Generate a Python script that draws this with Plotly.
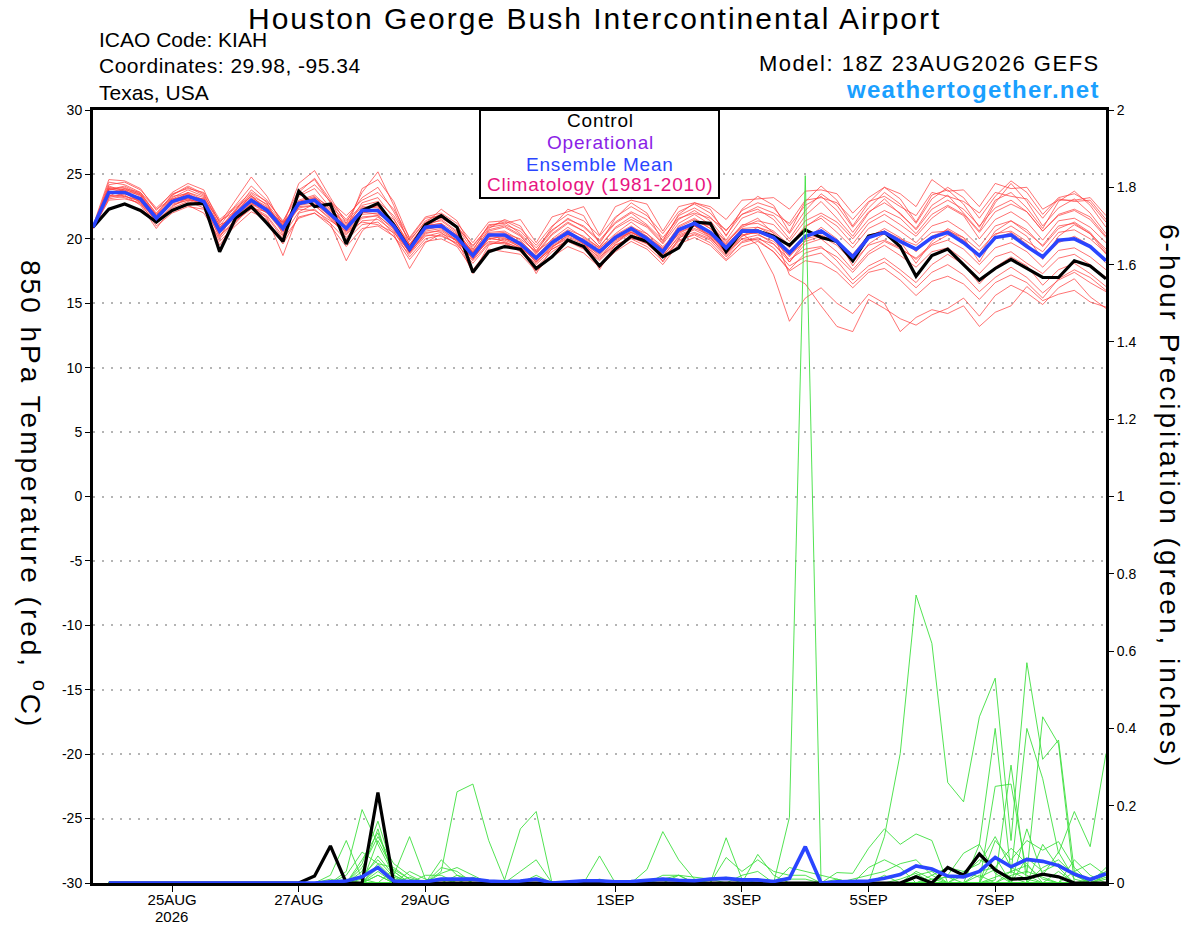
import pandas as pd
import plotly.graph_objects as go

# 6-hourly valid times of the 18Z 23AUG2026 GEFS run
times = pd.date_range("2026-08-23 18:00", periods=65, freq="6h")

# 850 hPa temperature (C)
control_t850 = [
    20.9, 22.3, 22.7, 22.2, 21.3, 22.2, 22.7, 22.75, 19.0, 21.6, 22.5, 21.2, 19.8,
    23.7, 22.5, 22.7, 19.6, 22.2, 22.75, 21.1, 19.2, 21.1, 21.8, 20.9, 17.4, 19.0,
    19.4, 19.2, 17.7, 18.6, 19.9, 19.4, 17.9, 19.2, 20.2, 19.8, 18.6, 19.3, 21.3,
    21.2, 19.0, 20.6, 20.6, 20.2, 19.5, 20.7, 20.1, 19.8, 18.3, 20.2, 20.5, 19.4,
    17.1, 18.7, 19.2, 18.0, 16.8, 17.7, 18.4, 17.7, 17.0, 17.0, 18.3, 17.9, 16.9,
]
mean_t850 = [
    20.9, 23.6, 23.6, 23.1, 21.6, 22.9, 23.3, 22.9, 20.6, 21.9, 23.0, 22.2, 20.8,
    22.75, 23.0, 21.9, 20.8, 22.2, 22.2, 21.0, 19.2, 20.9, 21.0, 20.1, 18.7, 20.3,
    20.3, 19.6, 18.5, 19.7, 20.5, 19.8, 19.0, 20.1, 20.8, 20.0, 19.0, 20.7, 21.2,
    20.5, 19.3, 20.6, 20.6, 20.1, 18.9, 20.2, 20.6, 19.8, 18.6, 20.1, 20.5, 19.8,
    19.2, 20.1, 20.5, 19.7, 18.7, 20.1, 20.3, 19.4, 18.6, 19.9, 20.0, 19.4, 18.3,
]
member_t850 = [
    [20.9, 24.4, 24.2, 23.6, 21.9, 23.4, 24.1, 23.5, 21.0, 22.6, 24.1, 23.0, 21.3,
     23.8, 24.6, 22.8, 21.5, 23.2, 24.0, 22.1, 19.8, 21.4, 21.9, 21.0, 19.4, 21.0,
     21.3, 20.4, 19.1, 20.6, 21.6, 20.9, 19.8, 21.2, 22.0, 21.1, 19.9, 21.8, 22.4,
     21.7, 20.3, 21.9, 22.3, 21.5, 20.0, 21.8, 22.9, 21.6, 20.2, 22.0, 23.1, 21.9,
     20.8, 22.6, 23.4, 22.0, 20.6, 22.8, 24.3, 22.9, 21.0, 22.4, 23.1, 22.0, 20.4],
    [20.8, 23.0, 23.1, 22.8, 21.0, 22.0, 22.5, 22.3, 19.8, 21.0, 22.1, 21.5, 19.6,
     21.7, 22.0, 21.0, 19.4, 20.8, 21.0, 20.2, 18.4, 19.8, 20.0, 19.4, 17.6, 19.2,
     19.0, 18.8, 17.5, 18.6, 19.4, 18.9, 17.8, 19.0, 19.8, 19.2, 18.0, 19.6, 20.1,
     19.5, 18.3, 19.4, 19.8, 19.0, 17.6, 18.9, 19.3, 18.6, 17.4, 18.8, 19.5, 18.7,
     17.8, 19.0, 19.3, 18.4, 17.3, 18.6, 19.0, 18.1, 17.3, 18.5, 18.8, 18.0, 17.0],
    [21.0, 24.6, 24.5, 23.9, 22.2, 23.6, 24.3, 23.8, 21.2, 23.0, 24.8, 23.3, 21.0,
     24.3, 25.3, 23.2, 21.2, 23.6, 25.2, 22.6, 19.5, 21.2, 22.3, 21.4, 19.2, 20.8,
     21.5, 21.0, 19.0, 20.9, 22.3, 21.8, 19.6, 21.6, 22.8, 22.0, 19.8, 21.9, 22.8,
     22.3, 20.2, 22.3, 23.3, 22.6, 20.5, 22.9, 24.1, 23.0, 21.0, 22.8, 24.0, 23.1,
     21.3, 23.4, 23.8, 22.7, 20.9, 23.0, 23.6, 22.4, 20.8, 22.9, 23.7, 22.6, 20.9],
    [20.9, 23.3, 23.4, 22.6, 20.8, 22.4, 22.9, 22.4, 19.5, 21.2, 22.6, 21.6, 18.7,
     22.0, 22.3, 21.2, 18.3, 20.6, 21.7, 20.4, 17.7, 19.7, 20.4, 19.9, 17.3, 19.5,
     20.0, 19.5, 17.3, 19.3, 20.3, 19.9, 17.6, 19.6, 20.7, 20.2, 18.2, 20.0, 21.0,
     20.6, 18.8, 20.2, 20.9, 20.3, 18.2, 19.9, 20.9, 20.0, 17.9, 19.6, 20.4, 19.8,
     18.1, 19.8, 20.8, 20.1, 18.2, 20.3, 21.0, 20.2, 18.4, 20.2, 21.1, 20.4, 18.8],
    [20.9, 23.8, 23.9, 23.3, 21.8, 23.1, 23.6, 23.0, 20.9, 22.1, 23.2, 22.5, 21.0,
     23.0, 23.4, 22.3, 21.2, 22.5, 22.4, 21.5, 19.6, 21.2, 21.4, 20.5, 19.0, 20.6,
     20.9, 20.2, 18.9, 20.4, 21.3, 20.6, 19.4, 20.8, 21.5, 20.9, 19.6, 21.2, 21.9,
     21.1, 19.8, 21.0, 21.6, 20.4, 17.2, 16.5, 14.8, 13.2, 12.8, 15.3, 14.6, 13.8,
     13.3, 14.1, 14.6, 15.4, 14.0, 15.6, 16.4, 15.8, 14.9, 16.2, 16.9, 15.5, 14.6],
    [20.9, 23.5, 23.7, 23.4, 21.7, 22.8, 23.1, 22.7, 20.4, 21.7, 22.8, 22.0, 20.5,
     22.6, 22.8, 21.7, 20.5, 21.9, 22.0, 21.0, 19.0, 20.6, 20.8, 19.8, 18.5, 20.0,
     19.9, 19.4, 18.2, 19.5, 20.2, 19.7, 18.7, 19.8, 20.5, 19.9, 18.8, 20.4, 21.0,
     20.3, 19.0, 20.4, 19.5, 17.2, 13.6, 15.4, 16.2, 15.0, 14.2, 15.7, 15.0, 12.8,
     13.9, 14.5, 14.2, 14.8, 13.2, 14.3, 14.8, 16.3, 15.2, 15.7, 16.0, 15.1, 14.7],
    [20.9, 24.0, 23.8, 23.0, 21.3, 22.6, 23.0, 22.6, 20.2, 21.5, 22.7, 22.3, 20.6,
     22.4, 22.6, 21.5, 20.3, 21.6, 21.8, 20.7, 18.9, 20.5, 20.6, 19.8, 18.4, 20.1,
     19.8, 19.2, 18.0, 19.2, 19.9, 19.3, 18.3, 19.5, 20.1, 19.6, 18.5, 19.9, 20.3,
     19.7, 18.4, 19.8, 20.1, 19.3, 17.9, 18.6, 18.9, 17.8, 16.5, 17.6, 18.2, 17.3,
     16.2, 17.4, 18.0, 17.2, 15.9, 17.0, 17.8, 17.0, 15.8, 16.8, 17.4, 16.6, 15.9],
    [20.9, 23.9, 24.0, 23.4, 21.6, 23.2, 23.8, 23.3, 20.8, 22.3, 23.5, 22.6, 20.9,
     23.3, 23.9, 22.4, 20.9, 22.8, 23.2, 21.6, 19.4, 21.0, 21.5, 20.6, 18.9, 20.7,
     21.0, 20.3, 18.8, 20.3, 21.2, 20.6, 19.4, 20.9, 21.7, 21.0, 19.7, 21.5, 22.2,
     21.4, 19.9, 21.6, 22.1, 21.8, 20.4, 22.2, 23.5, 22.6, 20.9, 22.4, 23.6, 22.7,
     21.2, 23.1, 24.0, 23.2, 21.6, 23.3, 24.5, 23.6, 21.9, 23.2, 23.5, 22.8, 21.3],
    [20.9, 23.7, 23.3, 22.9, 21.5, 23.0, 23.4, 22.8, 20.7, 22.0, 23.4, 22.1, 20.6,
     22.9, 23.3, 22.0, 20.9, 22.3, 22.6, 21.1, 19.3, 20.8, 20.9, 20.2, 18.8, 20.4,
     20.5, 19.7, 18.5, 19.8, 20.6, 19.9, 19.1, 20.3, 21.0, 20.2, 19.2, 20.9, 21.5,
     20.8, 19.5, 20.8, 20.9, 20.5, 19.3, 20.9, 21.8, 21.0, 19.6, 21.2, 21.9, 21.1,
     20.2, 21.6, 22.5, 21.8, 20.0, 21.5, 22.1, 21.3, 19.9, 21.4, 21.6, 20.9, 19.7],
    [20.8, 23.2, 23.5, 23.2, 21.9, 22.7, 23.0, 22.9, 21.1, 21.6, 22.4, 22.1, 21.3,
     22.3, 22.2, 21.4, 20.6, 21.3, 21.1, 20.5, 19.0, 20.3, 20.2, 19.7, 18.6, 19.8,
     19.7, 19.3, 18.3, 19.2, 19.8, 19.5, 18.6, 19.5, 20.1, 19.7, 18.7, 20.1, 20.5,
     20.0, 18.9, 20.0, 20.3, 19.8, 18.7, 19.8, 20.2, 19.5, 18.2, 19.5, 19.9, 19.3,
     18.4, 19.5, 19.9, 19.2, 18.0, 19.3, 19.7, 19.0, 17.8, 19.1, 19.3, 18.6, 17.6],
    [20.9, 24.2, 24.4, 23.8, 22.4, 23.5, 23.9, 23.6, 21.5, 22.5, 23.6, 22.9, 21.4,
     23.4, 24.2, 22.9, 21.8, 23.0, 23.6, 22.3, 20.1, 21.7, 22.0, 21.2, 19.7, 21.3,
     21.4, 20.8, 19.5, 21.0, 21.9, 21.4, 20.2, 21.7, 22.5, 21.8, 20.4, 22.1, 22.7,
     22.0, 20.6, 22.2, 22.8, 22.4, 21.0, 22.6, 23.3, 22.2, 20.5, 22.1, 22.8, 22.0,
     20.7, 22.3, 23.0, 22.3, 21.0, 22.4, 23.0, 22.1, 20.6, 21.8, 22.2, 21.5, 20.1],
    [20.9, 23.4, 23.2, 22.7, 21.2, 22.5, 23.2, 23.1, 20.3, 21.3, 22.5, 21.8, 20.2,
     22.1, 22.7, 21.8, 20.1, 21.4, 21.5, 20.6, 18.6, 20.0, 20.3, 19.6, 18.1, 19.6,
     19.7, 19.0, 17.8, 19.0, 19.8, 19.2, 18.0, 19.3, 20.0, 19.4, 18.3, 19.8, 20.4,
     19.9, 18.6, 19.7, 20.0, 19.6, 18.4, 19.2, 19.4, 18.3, 16.8, 17.9, 18.5, 17.6,
     16.6, 18.0, 18.8, 18.0, 16.5, 17.8, 18.6, 17.9, 16.4, 17.6, 18.1, 17.3, 16.3],
    [20.9, 23.6, 23.8, 23.5, 21.8, 23.3, 23.5, 22.6, 20.1, 22.2, 23.8, 22.8, 20.3,
     23.6, 24.7, 23.0, 20.7, 23.9, 24.6, 22.9, 20.0, 21.6, 21.8, 20.9, 19.1, 21.1,
     21.2, 21.5, 19.7, 21.7, 22.1, 22.5, 20.3, 22.5, 23.0, 22.7, 20.6, 22.5, 22.8,
     22.5, 21.5, 23.0, 23.1, 23.2, 22.3, 23.7, 23.8, 23.5, 22.0, 23.2, 24.0, 23.5,
     22.5, 24.6, 23.7, 23.8, 22.5, 24.3, 23.9, 24.0, 22.3, 23.0, 23.0, 23.2, 21.8],
    [20.9, 23.5, 23.6, 22.9, 21.4, 22.8, 23.6, 23.2, 20.5, 21.8, 23.1, 22.4, 20.9,
     22.8, 23.1, 22.1, 20.6, 22.0, 22.3, 21.2, 19.2, 21.0, 21.2, 20.4, 18.9, 20.3,
     20.1, 19.3, 18.4, 19.6, 20.4, 19.6, 18.8, 20.0, 20.6, 19.8, 18.9, 20.6, 21.1,
     20.2, 19.1, 20.5, 20.4, 19.6, 18.2, 19.6, 20.0, 19.0, 17.6, 19.0, 19.8, 19.2,
     18.5, 19.6, 20.3, 19.9, 18.8, 20.6, 21.4, 20.7, 19.4, 20.8, 21.3, 20.5, 19.0],
    [20.9, 24.1, 23.7, 23.0, 21.6, 22.9, 23.2, 22.8, 20.6, 22.0, 22.9, 22.3, 21.1,
     22.8, 22.9, 21.9, 21.0, 22.1, 21.9, 21.3, 19.5, 21.1, 21.0, 20.3, 19.0, 20.2,
     20.0, 19.8, 18.7, 19.8, 20.3, 20.0, 19.2, 20.0, 20.5, 20.1, 19.3, 20.3, 20.8,
     20.3, 19.4, 20.3, 20.5, 20.0, 19.1, 20.0, 20.3, 19.7, 18.8, 20.3, 20.6, 20.0,
     19.5, 20.5, 20.6, 20.1, 19.1, 20.4, 20.6, 19.8, 19.0, 20.5, 20.7, 20.0, 18.9],
    [20.8, 23.1, 23.3, 23.0, 21.4, 22.2, 22.6, 22.0, 20.0, 21.4, 22.3, 21.7, 20.0,
     21.6, 22.0, 21.2, 19.9, 21.1, 21.3, 20.2, 18.8, 20.2, 20.5, 19.5, 18.3, 19.7,
     19.6, 19.1, 18.1, 19.4, 20.0, 19.4, 18.4, 19.7, 20.4, 19.6, 18.6, 20.2, 20.7,
     20.1, 19.0, 20.2, 20.6, 20.0, 18.6, 20.1, 20.6, 19.9, 18.6, 20.1, 20.8, 20.1,
     19.0, 20.2, 20.7, 19.9, 18.6, 20.0, 20.5, 19.6, 18.5, 19.7, 20.2, 19.5, 18.1],
    [20.9, 23.8, 24.1, 23.5, 22.0, 23.4, 24.0, 23.4, 21.3, 22.4, 23.3, 22.7, 21.2,
     22.9, 23.2, 22.5, 21.4, 22.6, 22.9, 21.8, 19.9, 21.3, 21.6, 20.9, 19.5, 20.9,
     21.1, 20.6, 19.3, 20.7, 21.5, 21.0, 19.9, 21.3, 22.1, 21.5, 20.1, 21.6, 22.0,
     21.6, 20.7, 21.9, 22.5, 22.0, 21.2, 23.0, 23.2, 22.8, 21.5, 22.9, 23.3, 22.5,
     21.8, 23.6, 23.3, 22.9, 22.0, 23.6, 23.3, 23.1, 21.6, 23.1, 22.9, 23.0, 21.5],
    [20.9, 23.6, 23.5, 23.2, 21.7, 22.9, 23.1, 22.7, 20.9, 21.8, 22.7, 22.0, 20.7,
     22.5, 22.6, 21.6, 20.4, 21.7, 21.8, 20.8, 18.9, 20.4, 20.7, 19.9, 18.4, 20.0,
     20.2, 19.5, 18.2, 19.4, 20.1, 19.6, 18.5, 19.9, 20.5, 19.8, 18.8, 20.5, 21.0,
     20.1, 18.7, 20.0, 19.9, 19.0, 17.5, 18.3, 18.1, 17.4, 16.2, 17.4, 17.7, 16.8,
     15.6, 16.7, 17.1, 16.5, 15.3, 16.6, 17.2, 16.6, 15.4, 16.9, 17.6, 17.0, 16.0],
    [20.9, 23.9, 23.6, 22.8, 21.4, 23.0, 23.5, 22.9, 20.5, 22.2, 23.3, 22.3, 20.9,
     22.6, 23.1, 22.0, 20.7, 22.4, 22.5, 21.0, 19.1, 21.0, 21.2, 20.0, 18.6, 20.5,
     20.6, 19.9, 18.6, 20.0, 20.9, 20.1, 19.3, 20.4, 21.3, 20.4, 19.2, 21.0, 21.6,
     20.8, 19.6, 21.1, 21.2, 20.6, 19.5, 21.0, 21.6, 20.5, 19.3, 20.8, 21.4, 20.6,
     19.7, 21.0, 21.4, 20.6, 19.4, 21.0, 21.4, 20.5, 19.5, 21.0, 21.2, 20.4, 19.2],
    [21.0, 23.3, 23.9, 23.6, 22.3, 23.1, 23.3, 23.1, 21.4, 22.1, 22.8, 22.4, 21.2,
     22.6, 23.2, 22.2, 21.1, 22.3, 22.1, 21.2, 19.4, 20.7, 21.0, 20.3, 18.9, 20.2,
     20.4, 20.0, 19.0, 19.9, 20.7, 20.2, 19.3, 20.2, 20.9, 20.4, 19.4, 20.5, 21.3,
     21.0, 19.7, 20.9, 21.4, 21.1, 19.8, 21.4, 22.0, 21.3, 20.0, 21.5, 22.2, 21.6,
     20.4, 21.9, 22.6, 21.9, 20.5, 22.1, 22.7, 22.1, 20.6, 21.9, 22.3, 21.7, 20.2],
]

# 6-hour precipitation (inches), valid from the first forecast step
control_precip = [
    0, 0, 0, 0, 0, 0, 0, 0,
    0, 0, 0, 0, 0, 0.018, 0.096, 0,
    0, 0.234, 0, 0, 0, 0, 0, 0,
    0, 0, 0, 0, 0, 0, 0, 0,
    0, 0, 0, 0, 0, 0, 0, 0,
    0, 0, 0, 0, 0, 0, 0, 0,
    0, 0, 0, 0.016, 0, 0.04, 0.02, 0.075,
    0.034, 0.01, 0.012, 0.023, 0.016, 0, 0, 0,
]
mean_precip = [
    0, 0, 0, 0, 0, 0, 0, 0,
    0, 0, 0, 0, 0, 0, 0.003, 0.005,
    0.016, 0.04, 0.005, 0.005, 0.003, 0.01, 0.01, 0.01,
    0.005, 0.003, 0.005, 0.01, 0, 0.003, 0.006, 0.006,
    0.003, 0.004, 0.007, 0.01, 0.007, 0.006, 0.01, 0.012,
    0.008, 0.008, 0.004, 0.012, 0.094, 0, 0.003, 0.003,
    0.005, 0.012, 0.022, 0.044, 0.036, 0.018, 0.016, 0.03,
    0.066, 0.042, 0.061, 0.056, 0.045, 0.023, 0.009, 0.024,
]
member_precip = [
    [0, 0, 0, 0, 0, 0, 0, 0,  0, 0, 0, 0, 0, 0, 0.02, 0.11,
     0.01, 0, 0, 0, 0, 0, 0, 0,  0, 0, 0, 0, 0, 0, 0, 0,
     0, 0, 0, 0, 0, 0, 0, 0,  0, 0, 0, 0, 0, 0, 0, 0,
     0, 0, 0, 0.02, 0.03, 0, 0, 0,  0.11, 0.06, 0.11, 0.085, 0.107, 0.04, 0, 0.02],
    [0, 0, 0, 0, 0, 0, 0, 0,  0, 0, 0, 0, 0, 0, 0, 0.03,
     0.19, 0.10, 0.02, 0, 0, 0, 0, 0,  0, 0, 0, 0, 0, 0, 0, 0,
     0, 0, 0, 0, 0, 0, 0, 0,  0, 0.074, 0.02, 0, 0, 0, 0, 0,
     0, 0, 0, 0, 0, 0, 0, 0.10,  0.40, 0.025, 0.40, 0.27, 0.077, 0.185, 0.094, 0.335],
    [0, 0, 0, 0, 0, 0, 0, 0,  0, 0, 0, 0, 0, 0, 0, 0,
     0.05, 0.16, 0.03, 0, 0, 0.06, 0.02, 0,  0, 0, 0, 0, 0, 0, 0, 0,
     0, 0, 0, 0, 0, 0, 0, 0,  0, 0, 0, 0, 0, 0, 0, 0,
     0, 0.12, 0.335, 0.745, 0.62, 0.26, 0.21, 0.43,  0.53, 0.11, 0.57, 0.32, 0.37, 0.03, 0, 0],
    [0, 0, 0, 0, 0, 0, 0, 0,  0, 0, 0, 0, 0, 0, 0, 0,
     0.03, 0.14, 0.01, 0, 0, 0, 0, 0,  0, 0, 0.03, 0.06, 0, 0, 0, 0,
     0, 0, 0, 0.02, 0.02, 0, 0, 0,  0, 0, 0, 0, 0, 0, 0, 0,
     0, 0, 0, 0, 0, 0, 0, 0,  0.25, 0.256, 0.025, 0.43, 0.36, 0, 0, 0],
    [0, 0, 0, 0, 0, 0, 0, 0,  0, 0, 0, 0, 0, 0, 0, 0,
     0.06, 0.13, 0.02, 0.12, 0.01, 0, 0, 0,  0, 0, 0, 0, 0, 0, 0, 0,
     0, 0, 0, 0, 0, 0, 0, 0.117,  0.01, 0, 0, 0, 0, 0, 0, 0,
     0, 0, 0, 0, 0, 0, 0, 0,  0.008, 0.305, 0, 0, 0, 0, 0, 0],
    [0, 0, 0, 0, 0, 0, 0, 0,  0, 0, 0, 0, 0, 0, 0, 0,
     0.04, 0.12, 0.05, 0.02, 0, 0.03, 0.236, 0.256,  0.11, 0.008, 0.14, 0.185, 0, 0, 0, 0,
     0, 0, 0, 0, 0, 0, 0, 0,  0, 0, 0, 0, 0, 0, 0, 0,
     0, 0, 0, 0, 0, 0, 0, 0,  0, 0, 0, 0, 0, 0, 0, 0],
    [0, 0, 0, 0, 0, 0, 0, 0,  0, 0, 0, 0, 0, 0, 0, 0,
     0, 0.11, 0.03, 0, 0, 0, 0, 0,  0, 0, 0, 0, 0, 0, 0, 0.07,
     0, 0, 0, 0, 0, 0, 0, 0,  0, 0, 0, 0, 0, 0, 0, 0,
     0, 0, 0, 0, 0, 0.02, 0.077, 0.10,  0.025, 0, 0, 0, 0, 0, 0, 0],
    [0, 0, 0, 0, 0, 0, 0, 0,  0, 0, 0, 0, 0, 0, 0, 0.02,
     0.08, 0.05, 0.01, 0, 0, 0.04, 0.03, 0,  0, 0, 0, 0, 0, 0, 0, 0,
     0, 0, 0.035, 0.133, 0.06, 0.01, 0, 0,  0, 0, 0, 0, 0, 0, 0, 0,
     0, 0, 0, 0, 0, 0, 0, 0,  0.068, 0, 0.14, 0.02, 0.08, 0.01, 0, 0.04],
    [0, 0, 0, 0, 0, 0, 0, 0,  0, 0, 0, 0, 0, 0, 0, 0,
     0, 0, 0, 0, 0, 0, 0, 0,  0, 0, 0, 0, 0, 0, 0, 0,
     0, 0, 0, 0, 0, 0, 0, 0,  0, 0, 0, 0.17, 1.83, 0, 0.027, 0.025,
     0.09, 0.14, 0.10, 0.127, 0.11, 0, 0, 0,  0, 0, 0, 0, 0, 0, 0, 0],
    [0, 0, 0, 0, 0, 0, 0, 0,  0, 0, 0, 0, 0, 0, 0, 0,
     0, 0, 0, 0, 0, 0, 0, 0,  0, 0, 0, 0, 0, 0, 0, 0,
     0, 0, 0, 0, 0, 0, 0, 0.066,  0.03, 0.06, 0.03, 0.02, 0.02, 0, 0, 0,
     0, 0, 0, 0.03, 0.01, 0, 0, 0.02,  0, 0, 0, 0, 0, 0, 0, 0],
    [0, 0, 0, 0, 0, 0, 0, 0,  0, 0, 0, 0, 0, 0, 0.01, 0,
     0, 0.04, 0, 0, 0.02, 0.02, 0, 0,  0, 0, 0, 0, 0, 0, 0, 0,
     0, 0, 0, 0, 0, 0, 0, 0,  0, 0, 0, 0.04, 0.03, 0.02, 0.01, 0,
     0.04, 0.06, 0.04, 0, 0, 0, 0, 0,  0, 0, 0, 0.1, 0.04, 0, 0, 0],
    [0, 0, 0, 0, 0, 0, 0, 0,  0, 0, 0, 0, 0, 0, 0, 0,
     0, 0.03, 0, 0.015, 0, 0, 0, 0,  0, 0, 0, 0.02, 0, 0, 0, 0,
     0, 0, 0, 0, 0.02, 0.015, 0.01, 0,  0, 0, 0, 0, 0, 0, 0, 0,
     0, 0, 0, 0, 0.02, 0.04, 0.03, 0.05,  0.12, 0.04, 0.02, 0, 0, 0.06, 0.02, 0],
    [0, 0, 0, 0, 0, 0, 0, 0,  0, 0, 0, 0, 0, 0, 0, 0,
     0.02, 0.06, 0.015, 0, 0, 0, 0, 0.015,  0, 0, 0, 0, 0, 0, 0, 0,
     0, 0, 0, 0, 0, 0, 0, 0,  0, 0, 0, 0, 0, 0, 0, 0,
     0, 0, 0, 0, 0, 0, 0.02, 0.06,  0.04, 0.09, 0.05, 0, 0.03, 0, 0, 0],
    [0, 0, 0, 0, 0, 0, 0, 0,  0, 0, 0, 0, 0, 0, 0, 0,
     0, 0, 0, 0, 0, 0.025, 0.04, 0.02,  0, 0, 0, 0, 0, 0, 0, 0,
     0, 0, 0, 0, 0, 0, 0, 0,  0.02, 0.03, 0, 0, 0, 0, 0, 0.01,
     0.02, 0.03, 0.05, 0.06, 0.02, 0, 0, 0,  0, 0, 0, 0, 0, 0.03, 0.05, 0.02],
    [0, 0, 0, 0, 0, 0, 0, 0,  0, 0, 0, 0, 0, 0, 0, 0,
     0, 0.02, 0, 0, 0, 0, 0, 0,  0, 0, 0, 0, 0, 0, 0, 0,
     0, 0, 0, 0.01, 0.02, 0, 0, 0,  0, 0, 0, 0.01, 0.01, 0, 0, 0,
     0, 0, 0, 0, 0, 0, 0, 0,  0, 0.02, 0.03, 0.015, 0, 0, 0.01, 0.03],
    [0, 0, 0, 0, 0, 0, 0, 0,  0, 0, 0, 0, 0, 0, 0, 0,
     0, 0.05, 0.04, 0.01, 0, 0, 0, 0,  0, 0, 0, 0, 0, 0, 0, 0,
     0, 0, 0, 0, 0, 0, 0, 0,  0, 0, 0, 0, 0, 0, 0.01, 0,
     0, 0.02, 0, 0, 0, 0, 0.03, 0.015,  0.035, 0.015, 0, 0, 0, 0, 0, 0],
    [0, 0, 0, 0, 0, 0, 0, 0,  0, 0, 0, 0, 0, 0, 0, 0,
     0, 0, 0, 0.03, 0.01, 0, 0, 0,  0, 0, 0, 0, 0, 0, 0, 0,
     0, 0, 0, 0, 0, 0, 0, 0,  0, 0, 0, 0, 0, 0, 0, 0,
     0, 0, 0, 0, 0, 0, 0, 0.03,  0.04, 0, 0.065, 0.03, 0.05, 0.02, 0, 0.015],
    [0, 0, 0, 0, 0, 0, 0, 0,  0, 0, 0, 0, 0, 0, 0, 0,
     0.01, 0.07, 0.02, 0, 0, 0, 0, 0,  0, 0, 0, 0, 0, 0, 0, 0,
     0, 0, 0, 0, 0, 0, 0.01, 0.015,  0, 0, 0, 0, 0, 0, 0, 0,
     0, 0, 0, 0, 0.01, 0.015, 0, 0,  0, 0.03, 0.01, 0, 0, 0, 0, 0],
    [0, 0, 0, 0, 0, 0, 0, 0,  0, 0, 0, 0, 0, 0, 0, 0,
     0, 0.02, 0, 0, 0, 0.01, 0, 0,  0, 0, 0, 0, 0, 0, 0, 0.01,
     0, 0, 0, 0, 0, 0, 0, 0,  0, 0, 0, 0, 0, 0, 0, 0,
     0, 0, 0.01, 0.025, 0, 0, 0, 0,  0, 0, 0, 0.04, 0.06, 0.02, 0, 0],
    [0, 0, 0, 0, 0, 0, 0, 0,  0, 0, 0, 0, 0, 0, 0, 0.01,
     0, 0, 0.035, 0.01, 0, 0, 0.02, 0.01,  0, 0, 0, 0, 0, 0, 0, 0,
     0, 0, 0, 0, 0, 0, 0, 0,  0, 0, 0, 0, 0, 0, 0, 0,
     0, 0, 0, 0, 0, 0, 0, 0,  0.015, 0.03, 0.045, 0.01, 0, 0, 0, 0.01],
]

date_ticks = ["2026-08-25", "2026-08-27", "2026-08-29", "2026-09-01",
              "2026-09-03", "2026-09-05", "2026-09-07"]
date_labels = ["25AUG", "27AUG", "29AUG", "1SEP", "3SEP", "5SEP", "7SEP"]
temp_ticks = [-30, -25, -20, -15, -10, -5, 0, 5, 10, 15, 20, 25, 30]

# plot frame in page pixels, used to place the texts around it
L, R, T, B = 93, 1106, 110, 883


def px(x):
    return (x - L) / (R - L)


def py(y):
    return (B - y) / (B - T)


def wide(text, spacing):
    # the original font runs much wider than Arial, so open the letters up
    return '<span style="letter-spacing:%spx">%s</span>' % (spacing, text)


FONT = "Liberation Sans, Arial, sans-serif"
BLUE = "#2a45ff"
precip_times = times[1:]

fig = go.Figure()

for m in member_t850:
    fig.add_trace(go.Scatter(x=times, y=m, mode="lines",
                             line=dict(color="rgba(255,60,60,0.8)", width=0.9),
                             hoverinfo="skip"))
fig.add_trace(go.Scatter(x=times, y=control_t850, mode="lines",
                         line=dict(color="black", width=3.2)))
fig.add_trace(go.Scatter(x=times, y=mean_t850, mode="lines",
                         line=dict(color=BLUE, width=3.6)))

for m in member_precip:
    fig.add_trace(go.Scatter(x=precip_times, y=m, mode="lines", yaxis="y2",
                             line=dict(color="#3ee03e", width=0.9),
                             hoverinfo="skip"))
fig.add_trace(go.Scatter(x=precip_times, y=control_precip, mode="lines", yaxis="y2",
                         line=dict(color="black", width=3.2)))
fig.add_trace(go.Scatter(x=precip_times, y=mean_precip, mode="lines", yaxis="y2",
                         line=dict(color=BLUE, width=3.6)))

annotations = [
    dict(text=wide("Houston George Bush Intercontinental Airport", 2), x=px(594), y=py(19),
         xanchor="center", font=dict(size=30)),
    dict(text="ICAO Code: KIAH", x=px(97), y=py(40), xanchor="left", font=dict(size=21)),
    dict(text=wide("Coordinates: 29.98, -95.34", 0.5), x=px(97), y=py(66), xanchor="left",
         font=dict(size=21)),
    dict(text="Texas, USA", x=px(97), y=py(93), xanchor="left", font=dict(size=21)),
    dict(text=wide("Model: 18Z 23AUG2026 GEFS", 1.5), x=px(1102), y=py(63), xanchor="right",
         font=dict(size=22)),
    dict(text=wide("<b>weathertogether.net</b>", 1.3), x=px(1102), y=py(89), xanchor="right",
         font=dict(size=24, color="#1aa0ff")),
    dict(text=wide("Control", 0.8), x=px(600), y=py(121), font=dict(size=19)),
    dict(text=wide("Operational", 0.8), x=px(600), y=py(142),
         font=dict(size=19, color="#8b1ee6")),
    dict(text=wide("Ensemble Mean", 0.8), x=px(600), y=py(164), font=dict(size=19, color=BLUE)),
    dict(text=wide("Climatology (1981-2010)", 0.8), x=px(600), y=py(185),
         font=dict(size=19, color="#e8147f")),
    dict(text=wide("850 hPa Temperature (red, <sup>o</sup>C)", 3), x=px(33), y=py(494),
         textangle=90, font=dict(size=28)),
    dict(text=wide("6-hour Precipitation (green, inches)", 3), x=px(1170), y=py(496),
         textangle=90, font=dict(size=28)),
    # year under the first date label
    dict(text="2026", x=px(171), y=py(917), font=dict(size=15)),
]
for a in annotations:
    a.update(xref="paper", yref="paper", yanchor="middle", showarrow=False)
    a.setdefault("xanchor", "center")
    a["font"].setdefault("color", "black")
    a["font"]["family"] = FONT

fig.update_layout(
    width=1200, height=927,
    margin=dict(l=L, r=1200 - R, t=T, b=927 - B, autoexpand=False),
    paper_bgcolor="white", plot_bgcolor="white",
    showlegend=False,
    font=dict(family=FONT, color="black"),
    annotations=annotations,
    shapes=[dict(type="rect", xref="paper", yref="paper",
                 x0=px(480), x1=px(719), y0=py(198), y1=1,
                 line=dict(color="black", width=2), fillcolor="white", layer="above")],
    xaxis=dict(
        range=[times[0], times[-1]],
        tickvals=date_ticks, ticktext=date_labels,
        ticks="outside", ticklen=6, tickwidth=1, tickcolor="black",
        tickfont=dict(size=15), automargin=False, ticklabelstandoff=-5,
        showline=True, linewidth=3, linecolor="black", mirror=True,
        showgrid=False, zeroline=False,
    ),
    yaxis=dict(
        range=[-30, 30],
        tickvals=temp_ticks, ticktext=[str(v) for v in temp_ticks],
        ticks="outside", ticklen=5, tickwidth=1, tickcolor="black",
        tickfont=dict(size=14), automargin=False,
        showline=True, linewidth=3, linecolor="black",
        showgrid=True, gridcolor="#b4b4b4", gridwidth=1.5, griddash="2px,7px",
        zeroline=False,
    ),
    yaxis2=dict(
        range=[0, 2], overlaying="y", side="right",
        tick0=0, dtick=0.2,
        ticks="outside", ticklen=5, tickwidth=1, tickcolor="black",
        tickfont=dict(size=14), automargin=False,
        showline=True, linewidth=3, linecolor="black",
        showgrid=False, zeroline=False,
    ),
)

fig.write_html("out.html", config={"displayModeBar": False},
               post_script="document.body.style.margin = '0';")
